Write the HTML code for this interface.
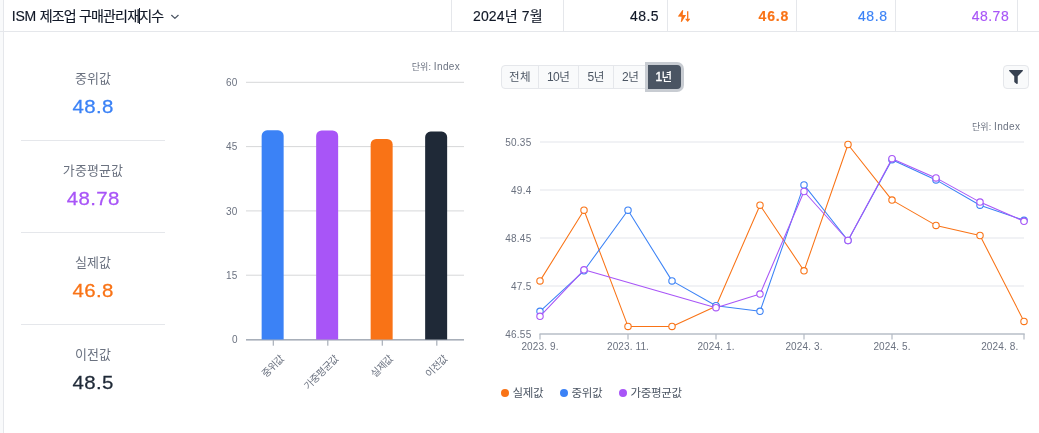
<!DOCTYPE html>
<html lang="ko">
<head>
<meta charset="utf-8">
<title>ISM 제조업 구매관리재지수</title>
<style>
html,body{margin:0;padding:0;}
body{width:1039px;height:433px;overflow:hidden;background:#f9fafb;position:relative;
 font-family:"Liberation Sans","Noto Sans CJK KR",sans-serif;color:#1f2937;}
.page{position:absolute;left:3px;top:0;width:1036px;height:433px;background:#fff;border-left:1px solid #e5e7eb;box-sizing:border-box;}
.abs{position:absolute;white-space:nowrap;}
.hdr{position:absolute;left:0;top:0;width:1039px;height:31px;border-bottom:1px solid #e5e7eb;}
.vsep{position:absolute;top:0;width:1px;height:31px;background:#e5e7eb;}
.ht{position:absolute;top:0.75px;color:#111827;-webkit-text-stroke:0.15px currentColor;height:31px;line-height:31px;font-size:14px;white-space:nowrap;}
.r{text-align:right;}
.stat-l{position:absolute;left:21px;width:144px;text-align:center;font-size:13px;line-height:20px;color:#6b7280;letter-spacing:0.1px;}
.stat-v{position:absolute;left:21px;width:144px;text-align:center;font-size:19px;line-height:24px;-webkit-text-stroke:0.28px currentColor;letter-spacing:0.35px;text-indent:0.35px;transform:scaleX(1.075);}
.div{position:absolute;left:21px;width:144px;height:1px;background:#e5e7eb;}
svg{position:absolute;left:0;top:0;}
svg text{font-family:"Liberation Sans","Noto Sans CJK KR",sans-serif;}
.ax{font-size:10px;fill:#6b7280;letter-spacing:0.25px;}
.axk{font-size:10px;fill:#6b7280;letter-spacing:-0.5px;}
.unit{font-size:10px;color:#6b7280;}
.axx{letter-spacing:0.12px;}
.uk{font-size:9px;letter-spacing:0.1px;}
.ul{letter-spacing:0.35px;}
.bg{position:absolute;left:501px;top:65px;height:24px;box-sizing:border-box;border:1px solid #e5e7eb;border-radius:4px;background:#f9fafb;display:flex;}
.bg div{box-sizing:border-box;height:22px;line-height:22px;font-size:12px;color:#4b5563;text-align:center;border-right:1px solid #e5e7eb;letter-spacing:-0.5px;}
.bg i{font-style:normal;font-size:11.5px;letter-spacing:0.3px;}
.bg .on{position:absolute;left:146px;top:-1px;width:33px;padding-right:1.5px;box-sizing:border-box;height:24px;line-height:24px;background:#4b5563;color:#fff;border:none;border-radius:0 4px 4px 0;box-shadow:0 0 0 3px #c8ccd2;}
.fbtn{position:absolute;left:1003px;top:65px;width:26px;height:24px;box-sizing:border-box;border:1px solid #e5e7eb;border-radius:4px;background:#f9fafb;}
.lg{position:absolute;top:385px;height:16px;line-height:16px;font-size:11.5px;color:#4b5563;letter-spacing:-0.3px;white-space:nowrap;}
.dot{position:absolute;top:389px;width:8px;height:8px;border-radius:50%;}
</style>
</head>
<body>
<div class="page"></div>
<div class="hdr">
  <div class="vsep" style="left:451px"></div>
  <div class="vsep" style="left:563px"></div>
  <div class="vsep" style="left:667px"></div>
  <div class="vsep" style="left:796px"></div>
  <div class="vsep" style="left:895px"></div>
  <div class="vsep" style="left:1017px"></div>
  <div class="ht" id="title" style="left:11.8px;top:0.5px;"><span style="letter-spacing:-0.2px;">ISM </span><span style="letter-spacing:-0.835px;">제조업 구매관리재지수</span></div>
  <div class="abs" style="left:139px;top:8px;width:1px;height:16px;background:#111827;"></div>
  <svg width="1039" height="31" viewBox="0 0 1039 31"><path d="M171.6 15.3 L174.9 18.4 L178.2 15.3" fill="none" stroke="#4b5563" stroke-width="1.2" stroke-linecap="round" stroke-linejoin="round"/>
  <g fill="#f97316"><path d="M683.2 10 L682.2 10.2 L677.8 16.5 L681.6 16.8 L680.8 22 L681.9 21.7 L686.1 15 L682.7 14.9 Z"/><path d="M687.05 11.3 h1.3 v7.7 l1.2 -0.6 l0.5 0.9 l-2.35 2.7 l-2.35 -2.7 l0.5 -0.9 l1.2 0.6 z"/></g></svg>
  <div class="ht" id="date" style="left:473px;letter-spacing:0.15px;">2024년 7월</div>
  <div class="ht r" id="h1" style="left:600px;width:58.9px;letter-spacing:0.4px;">48.5</div>
  <div class="ht r" id="h2" style="left:700px;width:89.2px;font-weight:bold;color:#f97316;letter-spacing:0.85px;">46.8</div>
  <div class="ht r" id="h3" style="left:800px;width:87.6px;color:#3b82f6;letter-spacing:0.6px;">48.8</div>
  <div class="ht r" id="h4" style="left:900px;width:109.2px;color:#a855f7;letter-spacing:0.5px;">48.78</div>
</div>

<div class="stat-l" style="top:69px">중위값</div>
<div class="stat-v" style="top:95px;color:#3b82f6">48.8</div>
<div class="div" style="top:140px"></div>
<div class="stat-l" style="top:161px">가중평균값</div>
<div class="stat-v" style="top:187px;color:#a855f7">48.78</div>
<div class="div" style="top:232px"></div>
<div class="stat-l" style="top:253px">실제값</div>
<div class="stat-v" style="top:279px;color:#f97316">46.8</div>
<div class="div" style="top:324px"></div>
<div class="stat-l" style="top:345px">이전값</div>
<div class="stat-v" style="top:371px;color:#1f2937">48.5</div>

<svg width="1039" height="433" viewBox="0 0 1039 433">
<rect x="246" y="81.80" width="218" height="1" fill="#d6d7d9"/>
<rect x="246" y="146.10" width="218" height="1" fill="#d6d7d9"/>
<rect x="246" y="210.40" width="218" height="1" fill="#d6d7d9"/>
<rect x="246" y="274.70" width="218" height="1" fill="#d6d7d9"/>
<rect x="246" y="339" width="218" height="1.6" fill="#a8afb9"/>
<path d="M261.65 339.5 V135.81 A5.5 5.5 0 0 1 267.15 130.31 H278.15 A5.5 5.5 0 0 1 283.65 135.81 V339.5 Z" fill="#3b82f6"/>
<rect x="272.70" y="340" width="1.2" height="5.7" fill="#a8afb9"/>
<text x="284.45" y="359.5" text-anchor="end" transform="rotate(-45 284.45 359.5)" class="axk">중위값</text>
<path d="M316.15 339.5 V135.90 A5.5 5.5 0 0 1 321.65 130.40 H332.65 A5.5 5.5 0 0 1 338.15 135.90 V339.5 Z" fill="#a855f7"/>
<rect x="327.20" y="340" width="1.2" height="5.7" fill="#a8afb9"/>
<text x="338.95" y="359.5" text-anchor="end" transform="rotate(-45 338.95 359.5)" class="axk">가중평균값</text>
<path d="M370.65 339.5 V144.38 A5.5 5.5 0 0 1 376.15 138.88 H387.15 A5.5 5.5 0 0 1 392.65 144.38 V339.5 Z" fill="#f97316"/>
<rect x="381.70" y="340" width="1.2" height="5.7" fill="#a8afb9"/>
<text x="393.45" y="359.5" text-anchor="end" transform="rotate(-45 393.45 359.5)" class="axk">실제값</text>
<path d="M425.15 339.5 V137.10 A5.5 5.5 0 0 1 430.65 131.60 H441.65 A5.5 5.5 0 0 1 447.15 137.10 V339.5 Z" fill="#1f2937"/>
<rect x="436.20" y="340" width="1.2" height="5.7" fill="#a8afb9"/>
<text x="447.95" y="359.5" text-anchor="end" transform="rotate(-45 447.95 359.5)" class="axk">이전값</text>
<text x="237.7" y="85.9" text-anchor="end" class="ax">60</text>
<text x="237.7" y="150.2" text-anchor="end" class="ax">45</text>
<text x="237.7" y="214.5" text-anchor="end" class="ax">30</text>
<text x="237.7" y="278.8" text-anchor="end" class="ax">15</text>
<text x="237.7" y="343.1" text-anchor="end" class="ax">0</text>

<rect x="540" y="141" width="484" height="2" fill="#f1f2f5"/>
<rect x="540" y="189" width="484" height="2" fill="#f1f2f5"/>
<rect x="540" y="237" width="484" height="2" fill="#f1f2f5"/>
<rect x="540" y="285" width="484" height="2" fill="#f1f2f5"/>
<rect x="539.5" y="333.3" width="485.2" height="1.4" fill="#b3b9c3"/>
<rect x="539.4" y="334" width="1.2" height="5.5" fill="#b3b9c3"/>
<rect x="627.4" y="334" width="1.2" height="5.5" fill="#b3b9c3"/>
<rect x="715.4" y="334" width="1.2" height="5.5" fill="#b3b9c3"/>
<rect x="803.4" y="334" width="1.2" height="5.5" fill="#b3b9c3"/>
<rect x="891.4" y="334" width="1.2" height="5.5" fill="#b3b9c3"/>
<rect x="1023.4" y="334" width="1.2" height="5.5" fill="#b3b9c3"/>
<path d="M540.0 280.9 L584.0 210.2 L628.0 326.4 L672.0 326.4 L716.0 306.2 L760.0 205.2 L804.0 270.8 L848.0 144.5 L892.0 200.1 L936.0 225.4 L980.0 235.5 L1024.0 321.4" fill="none" stroke="#f97316" stroke-width="1.05" stroke-linejoin="round"/>
<circle cx="540.0" cy="280.9" r="3.2" fill="#fff" stroke="#f97316" stroke-width="1.1"/>
<circle cx="584.0" cy="210.2" r="3.2" fill="#fff" stroke="#f97316" stroke-width="1.1"/>
<circle cx="628.0" cy="326.4" r="3.2" fill="#fff" stroke="#f97316" stroke-width="1.1"/>
<circle cx="672.0" cy="326.4" r="3.2" fill="#fff" stroke="#f97316" stroke-width="1.1"/>
<circle cx="716.0" cy="306.2" r="3.2" fill="#fff" stroke="#f97316" stroke-width="1.1"/>
<circle cx="760.0" cy="205.2" r="3.2" fill="#fff" stroke="#f97316" stroke-width="1.1"/>
<circle cx="804.0" cy="270.8" r="3.2" fill="#fff" stroke="#f97316" stroke-width="1.1"/>
<circle cx="848.0" cy="144.5" r="3.2" fill="#fff" stroke="#f97316" stroke-width="1.1"/>
<circle cx="892.0" cy="200.1" r="3.2" fill="#fff" stroke="#f97316" stroke-width="1.1"/>
<circle cx="936.0" cy="225.4" r="3.2" fill="#fff" stroke="#f97316" stroke-width="1.1"/>
<circle cx="980.0" cy="235.5" r="3.2" fill="#fff" stroke="#f97316" stroke-width="1.1"/>
<circle cx="1024.0" cy="321.4" r="3.2" fill="#fff" stroke="#f97316" stroke-width="1.1"/>
<path d="M540.0 311.3 L584.0 270.8 L628.0 210.2 L672.0 280.9 L716.0 305.7 L760.0 311.3 L804.0 184.9 L848.0 240.5 L892.0 159.7 L936.0 179.9 L980.0 205.2 L1024.0 220.3" fill="none" stroke="#3b82f6" stroke-width="1.05" stroke-linejoin="round"/>
<circle cx="540.0" cy="311.3" r="3.2" fill="#fff" stroke="#3b82f6" stroke-width="1.1"/>
<circle cx="584.0" cy="270.8" r="3.2" fill="#fff" stroke="#3b82f6" stroke-width="1.1"/>
<circle cx="628.0" cy="210.2" r="3.2" fill="#fff" stroke="#3b82f6" stroke-width="1.1"/>
<circle cx="672.0" cy="280.9" r="3.2" fill="#fff" stroke="#3b82f6" stroke-width="1.1"/>
<circle cx="716.0" cy="305.7" r="3.2" fill="#fff" stroke="#3b82f6" stroke-width="1.1"/>
<circle cx="760.0" cy="311.3" r="3.2" fill="#fff" stroke="#3b82f6" stroke-width="1.1"/>
<circle cx="804.0" cy="184.9" r="3.2" fill="#fff" stroke="#3b82f6" stroke-width="1.1"/>
<circle cx="848.0" cy="240.5" r="3.2" fill="#fff" stroke="#3b82f6" stroke-width="1.1"/>
<circle cx="892.0" cy="159.7" r="3.2" fill="#fff" stroke="#3b82f6" stroke-width="1.1"/>
<circle cx="936.0" cy="179.9" r="3.2" fill="#fff" stroke="#3b82f6" stroke-width="1.1"/>
<circle cx="980.0" cy="205.2" r="3.2" fill="#fff" stroke="#3b82f6" stroke-width="1.1"/>
<circle cx="1024.0" cy="220.3" r="3.2" fill="#fff" stroke="#3b82f6" stroke-width="1.1"/>
<path d="M540.0 316.3 L584.0 269.8 L716.0 307.7 L760.0 294.1 L804.0 191.5 L848.0 240.5 L892.0 158.7 L936.0 177.9 L980.0 202.1 L1024.0 221.3" fill="none" stroke="#a855f7" stroke-width="1.05" stroke-linejoin="round"/>
<circle cx="540.0" cy="316.3" r="3.2" fill="#fff" stroke="#a855f7" stroke-width="1.1"/>
<circle cx="584.0" cy="269.8" r="3.2" fill="#fff" stroke="#a855f7" stroke-width="1.1"/>
<circle cx="716.0" cy="307.7" r="3.2" fill="#fff" stroke="#a855f7" stroke-width="1.1"/>
<circle cx="760.0" cy="294.1" r="3.2" fill="#fff" stroke="#a855f7" stroke-width="1.1"/>
<circle cx="804.0" cy="191.5" r="3.2" fill="#fff" stroke="#a855f7" stroke-width="1.1"/>
<circle cx="848.0" cy="240.5" r="3.2" fill="#fff" stroke="#a855f7" stroke-width="1.1"/>
<circle cx="892.0" cy="158.7" r="3.2" fill="#fff" stroke="#a855f7" stroke-width="1.1"/>
<circle cx="936.0" cy="177.9" r="3.2" fill="#fff" stroke="#a855f7" stroke-width="1.1"/>
<circle cx="980.0" cy="202.1" r="3.2" fill="#fff" stroke="#a855f7" stroke-width="1.1"/>
<circle cx="1024.0" cy="221.3" r="3.2" fill="#fff" stroke="#a855f7" stroke-width="1.1"/>
<text x="531.5" y="146.2" text-anchor="end" class="ax">50.35</text>
<text x="531.5" y="194.2" text-anchor="end" class="ax">49.4</text>
<text x="531.5" y="242.2" text-anchor="end" class="ax">48.45</text>
<text x="531.5" y="290.2" text-anchor="end" class="ax">47.5</text>
<text x="531.5" y="338.2" text-anchor="end" class="ax">46.55</text>
<text x="540" y="349.8" text-anchor="middle" class="ax axx">2023. 9.</text>
<text x="628" y="349.8" text-anchor="middle" class="ax axx">2023. 11.</text>
<text x="716" y="349.8" text-anchor="middle" class="ax axx">2024. 1.</text>
<text x="804" y="349.8" text-anchor="middle" class="ax axx">2024. 3.</text>
<text x="892" y="349.8" text-anchor="middle" class="ax axx">2024. 5.</text>
<text x="1018.3" y="349.8" text-anchor="end" class="ax axx">2024. 8.</text>

</svg>
<div class="abs unit" id="u1" style="left:411.7px;top:60px;line-height:14px;"><span class="uk">단위:</span> <span class="ul">Index</span></div>
<div class="abs unit" id="u2" style="left:971.9px;top:119.5px;line-height:14px;"><span class="uk">단위:</span> <span class="ul">Index</span></div>

<div class="bg">
  <div style="width:37px"><i>전체</i></div><div style="width:40px">10<i>년</i></div><div style="width:35px">5<i>년</i></div><div style="width:33px;border-right:none">2<i>년</i></div><div style="width:34px;border:none"></div>
  <div class="on"><span style="-webkit-text-stroke:0.4px #fff;letter-spacing:-0.6px;">1</span><i style="font-weight:500;letter-spacing:0;">년</i></div>
</div>
<div class="fbtn"><svg width="14" height="14" viewBox="0 0 512 512" style="left:5.2px;top:4px"><path fill="#374151" d="M487.976 0H24.028C2.71 0-8.047 25.866 7.058 40.971L192 225.941V432c0 7.831 3.821 15.17 10.237 19.662l80 55.98C298.02 518.69 320 507.493 320 487.98V225.941l184.947-184.97C520.021 25.896 509.338 0 487.976 0z"/></svg></div>

<div class="dot" style="left:501px;background:#f97316"></div><div class="lg" style="left:512.5px">실제값</div>
<div class="dot" style="left:560px;background:#3b82f6"></div><div class="lg" style="left:571.5px">중위값</div>
<div class="dot" style="left:619px;background:#a855f7"></div><div class="lg" style="left:630.5px">가중평균값</div>
</body>
</html>
